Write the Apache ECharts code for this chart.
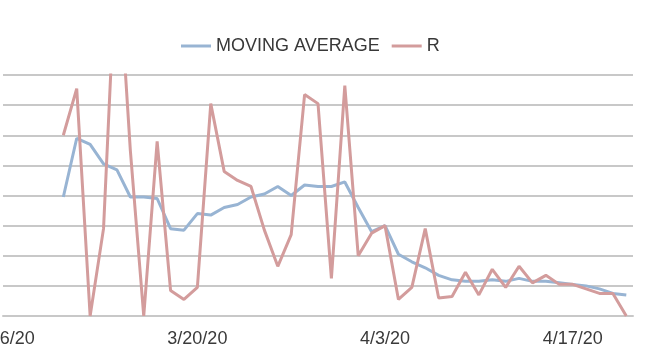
<!DOCTYPE html>
<html>
<head>
<meta charset="utf-8">
<script src="https://cdn.jsdelivr.net/npm/echarts@6/dist/echarts.min.js"></script>
<style>
  html, body { margin: 0; padding: 0; background: #ffffff; }
  #chart { width: 645px; height: 357px; }
</style>
</head>
<body>
<div id="chart"></div>
<script>
// Daily dates on the category axis (3/6/20 to 4/21/20)
const dates = [
  '3/6/20','3/7/20','3/8/20','3/9/20','3/10/20','3/11/20','3/12/20','3/13/20',
  '3/14/20','3/15/20','3/16/20','3/17/20','3/18/20','3/19/20','3/20/20','3/21/20',
  '3/22/20','3/23/20','3/24/20','3/25/20','3/26/20','3/27/20','3/28/20','3/29/20',
  '3/30/20','3/31/20','4/1/20','4/2/20','4/3/20','4/4/20','4/5/20','4/6/20',
  '4/7/20','4/8/20','4/9/20','4/10/20','4/11/20','4/12/20','4/13/20','4/14/20',
  '4/15/20','4/16/20','4/17/20','4/18/20','4/19/20','4/20/20','4/21/20'
];

// Daily R values (series starts 3/10/20)
const rValues = [
  null, null, null, null,
  1.20, 1.51, 0.00, 0.58, 2.50, 1.10, 0.00, 1.16, 0.17, 0.11,
  0.19, 1.41, 0.96, 0.90, 0.86, 0.57, 0.33, 0.54, 1.47, 1.41,
  0.25, 1.53, 0.40, 0.55, 0.60, 0.11, 0.19, 0.58, 0.12, 0.13,
  0.29, 0.14, 0.31, 0.19, 0.33, 0.22, 0.27, 0.21, 0.21, 0.18,
  0.15, 0.15, 0.00
];

// Moving average of R
const maValues = [
  null, null, null, null,
  0.79, 1.18, 1.14, 1.01, 0.97, 0.79, 0.79, 0.78, 0.58, 0.57,
  0.68, 0.67, 0.72, 0.74, 0.79, 0.81, 0.86, 0.80, 0.87, 0.86,
  0.86, 0.89, 0.72, 0.56, 0.60, 0.41, 0.36, 0.32, 0.27, 0.24,
  0.23, 0.23, 0.24, 0.23, 0.25, 0.23, 0.23, 0.22, 0.21, 0.20,
  0.18, 0.15, 0.14
];

const chart = echarts.init(document.getElementById('chart'), null, { renderer: 'canvas' });

chart.setOption({
  animation: false,
  backgroundColor: '#ffffff',
  legend: {
    left: 176,
    top: 32,
    itemWidth: 30,
    itemHeight: 10,
    itemGap: 12,
    icon: 'path://M0,4 L30,4 L30,7 L0,7 Z',
    textStyle: { fontFamily: 'Liberation Sans', fontSize: 18, color: '#383838' },
    data: ['MOVING AVERAGE', 'R']
  },
  grid: {
    left: 3, right: 12, top: 75, bottom: 41,
    containLabel: false,
    outerBoundsMode: 'none'
  },
  xAxis: {
    type: 'category',
    data: dates,
    boundaryGap: true,
    axisLine: { show: true, lineStyle: { color: '#c8c8c8', width: 2 } },
    axisTick: { show: false },
    axisLabel: {
      interval: 13,
      margin: 14,
      hideOverlap: false,
      fontFamily: 'Liberation Sans',
      fontSize: 18,
      color: '#3a3a3a'
    }
  },
  yAxis: {
    type: 'value',
    min: 0,
    max: 1.6,
    interval: 0.2,
    axisLine: { show: false },
    axisTick: { show: false },
    axisLabel: { show: false },
    splitLine: { lineStyle: { color: '#c8c8c8', width: 2 } }
  },
  series: [
    {
      name: 'MOVING AVERAGE',
      type: 'line',
      data: maValues,
      symbol: 'none',
      lineStyle: { color: '#98b4d3', width: 3 },
      itemStyle: { color: '#98b4d3' },
      z: 2
    },
    {
      name: 'R',
      type: 'line',
      data: rValues,
      symbol: 'none',
      lineStyle: { color: '#d39c9c', width: 3 },
      itemStyle: { color: '#d39c9c' },
      z: 3
    }
  ]
});
</script>
</body>
</html>
